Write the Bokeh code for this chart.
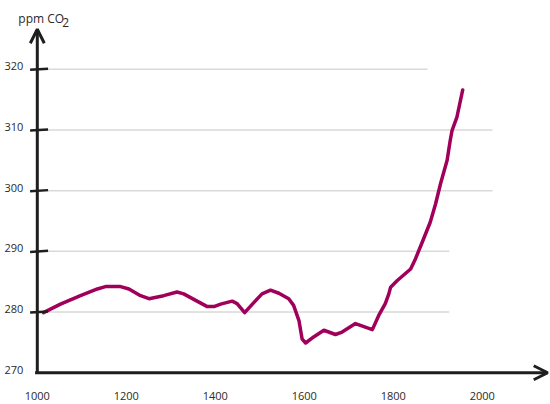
from bokeh.plotting import figure
from bokeh.models import Range1d, Arrow, OpenHead
from bokeh.core.properties import value
from bokeh.embed import file_html
from bokeh.resources import INLINE

# ---- data ----
years = [1014, 1052, 1097, 1135, 1153, 1187, 1206, 1232, 1251, 1284, 1314, 1329,
         1359, 1382, 1397, 1412, 1438, 1449, 1466, 1487, 1505, 1524, 1543, 1565,
         1576, 1588, 1595, 1603, 1621, 1644, 1670, 1685, 1715, 1753, 1767, 1782,
         1790, 1794, 1809, 1839, 1850, 1865, 1883, 1895, 1906, 1921, 1928, 1932,
         1943, 1956]
ppm = [279.9, 281.3, 282.7, 283.8, 284.2, 284.2, 283.8, 282.7, 282.2, 282.7, 283.3,
       283.0, 281.8, 280.9, 280.9, 281.3, 281.8, 281.4, 279.9, 281.6, 283.0, 283.6,
       283.1, 282.2, 281.1, 278.6, 275.6, 274.9, 275.9, 277.0, 276.3, 276.7, 278.1,
       277.1, 279.4, 281.4, 283.0, 284.1, 285.2, 287.1, 288.8, 291.5, 294.8, 297.8,
       301.1, 305.0, 308.3, 309.9, 312.1, 316.6]

y_ticks = [270, 280, 290, 300, 310, 320]
y_tick_labels = ["270", "280", "290", "300", "310", "320"]
x_ticks = [1000, 1200, 1400, 1600, 1800, 2000]
x_tick_labels = ["1000", "1200", "1400", "1600", "1800", "2000"]
grid_vals = [280, 290, 300, 310, 320]
grid_ends = [1926, 1926, 2023, 2023, 1877]

X_MIN, Y_MIN = 1000, 270
X_AXIS_END = 2147
Y_AXIS_END = 326.6

FONT = "Open Sans"
TXT = "#2a2a2a"
AX = "#1e1e1e"

p = figure(width=550, height=404, output_backend="svg", toolbar_location=None,
           x_range=Range1d(917.3, 2153.3), y_range=Range1d(264.77, 331.33),
           min_border=0)
p.xaxis.visible = False
p.yaxis.visible = False
p.grid.visible = False
p.outline_line_color = None
p.background_fill_color = "white"
p.border_fill_color = "white"

# gridlines
p.segment(x0=[X_MIN] * len(grid_vals), x1=grid_ends, y0=grid_vals, y1=grid_vals,
          line_color="#d9d9d9", line_width=1.5)

# data line
p.line(years, ppm, line_color="#a0005a", line_width=3.5,
       line_join="round", line_cap="round")

# axes (hand-drawn style)
p.add_layout(Arrow(end=OpenHead(size=14, line_width=3, line_color=AX),
                   x_start=X_MIN, y_start=Y_MIN - 0.2, x_end=X_MIN, y_end=Y_AXIS_END,
                   line_width=3, line_color=AX))
p.add_layout(Arrow(end=OpenHead(size=14, line_width=3, line_color=AX),
                   x_start=X_MIN - 5, y_start=Y_MIN, x_end=X_AXIS_END, y_end=Y_MIN,
                   line_width=3, line_color=AX))

# y tick marks
p.scatter(x=[X_MIN + 4] * len(grid_vals), y=grid_vals, marker="dash", size=18,
          line_width=2.5, line_color=AX, angle=0.06)

# tick labels
p.text(x=[X_MIN] * len(y_ticks), y=y_ticks, text=y_tick_labels,
       text_font=value(FONT), text_font_size="11px", text_color=TXT,
       text_align="right", text_baseline="middle", x_offset=-14, y_offset=-3)
p.text(x=x_ticks, y=[Y_MIN] * len(x_ticks), text=x_tick_labels,
       text_font=value(FONT), text_font_size="11px", text_color=TXT,
       text_align="center", text_baseline="middle", y_offset=23)

# unit label
p.text(x=[X_MIN], y=[Y_AXIS_END], text=["ppm CO"], text_font=value(FONT),
       text_font_size="12px", text_color=TXT, text_align="left",
       text_baseline="alphabetic", x_offset=-19, y_offset=-11)
p.text(x=[X_MIN], y=[Y_AXIS_END], text=["2"], text_font=value(FONT),
       text_font_size="12px", text_color=TXT, text_align="left",
       text_baseline="alphabetic", x_offset=25, y_offset=-7)

open("out.html", "w").write(file_html(p, INLINE))
